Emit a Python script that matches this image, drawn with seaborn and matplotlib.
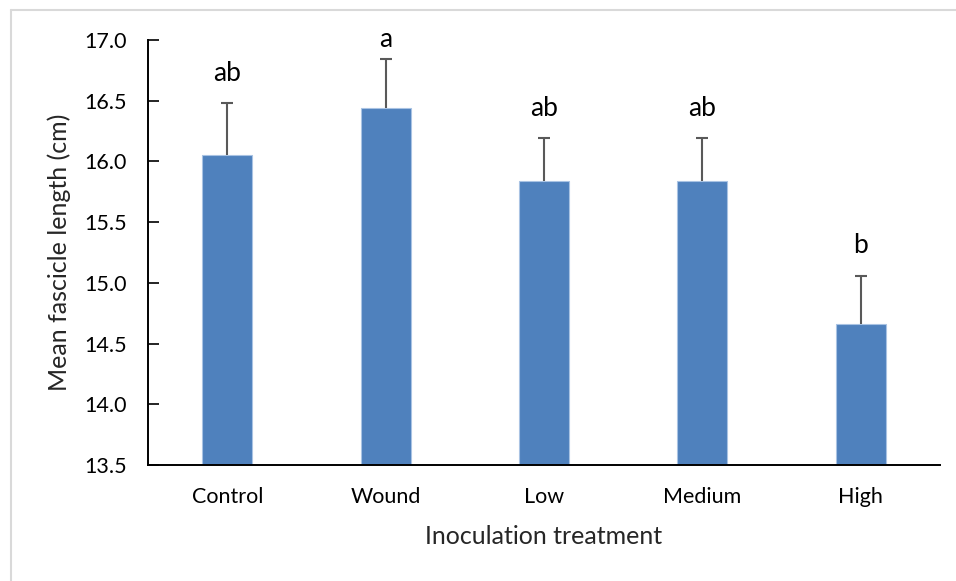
import matplotlib
matplotlib.use("Agg")
import matplotlib.pyplot as plt
import seaborn as sns
import pandas as pd
from matplotlib.lines import Line2D

treatments = ["Control", "Wound", "Low", "Medium", "High"]
mean_length = [16.05, 16.44, 15.84, 15.84, 14.66]
std_error = [0.43, 0.40, 0.35, 0.35, 0.40]
group_letters = ["ab", "a", "ab", "ab", "b"]
y_ticks = [13.5, 14.0, 14.5, 15.0, 15.5, 16.0, 16.5, 17.0]

df = pd.DataFrame({"treatment": treatments, "length": mean_length})

sns.set_style("white")
plt.rcParams["font.family"] = ["Lato", "DejaVu Sans"]

fig = plt.figure(figsize=(9.56, 5.81), dpi=100)
ax = fig.add_axes([0.1548, 0.1997, 0.8285, 0.7315])

sns.barplot(data=df, x="treatment", y="length", order=treatments,
            color="#4F81BD", saturation=1, width=0.315, errorbar=None,
            edgecolor="#A9C3E3", linewidth=0.8, ax=ax)

# one-sided (upper) error bars
xs = list(range(len(treatments)))
_, caps, _ = ax.errorbar(xs, mean_length, yerr=[[0] * len(std_error), std_error],
                         fmt="none", ecolor="#595959", elinewidth=1.5,
                         capsize=4, capthick=1.5, zorder=3)
caps[0].set_visible(False)

# significance letters above the error bars
for x, m, e, lab in zip(xs, mean_length, std_error, group_letters):
    y = min(m + e + 0.185, 16.94)
    ax.text(x, y, lab, ha="center", va="baseline", fontsize=19,
            color="black")

ax.set_ylim(13.5, 17.0)
ax.set_xlim(-0.5, len(treatments) - 0.5)
ax.set_yticks(y_ticks)
ax.set_yticklabels([f"{t:.1f}" for t in y_ticks])

ax.tick_params(axis="y", direction="in", length=8, width=1.2, pad=15,
               labelsize=15.5, colors="black", left=True)
ax.tick_params(axis="x", length=0, pad=16, labelsize=15.5, colors="black")

for side in ["top", "right"]:
    ax.spines[side].set_visible(False)
for side in ["left", "bottom"]:
    ax.spines[side].set_color("black")
    ax.spines[side].set_linewidth(1.4)

ax.set_xlabel("Inoculation treatment", fontsize=18, labelpad=13)
ax.set_ylabel("Mean fascicle length (cm)", fontsize=18, labelpad=10)

# light chart-area frame (left and top edges)
W, H = 956, 581
fig.add_artist(Line2D([10.5 / W, 10.5 / W], [0, 1 - 9.5 / H],
                      transform=fig.transFigure, color="#D9D9D9", lw=1.5))
fig.add_artist(Line2D([10.5 / W, 1], [1 - 9.5 / H, 1 - 9.5 / H],
                      transform=fig.transFigure, color="#D9D9D9", lw=1.5))

fig.savefig("out.png", dpi=100, facecolor="white")
